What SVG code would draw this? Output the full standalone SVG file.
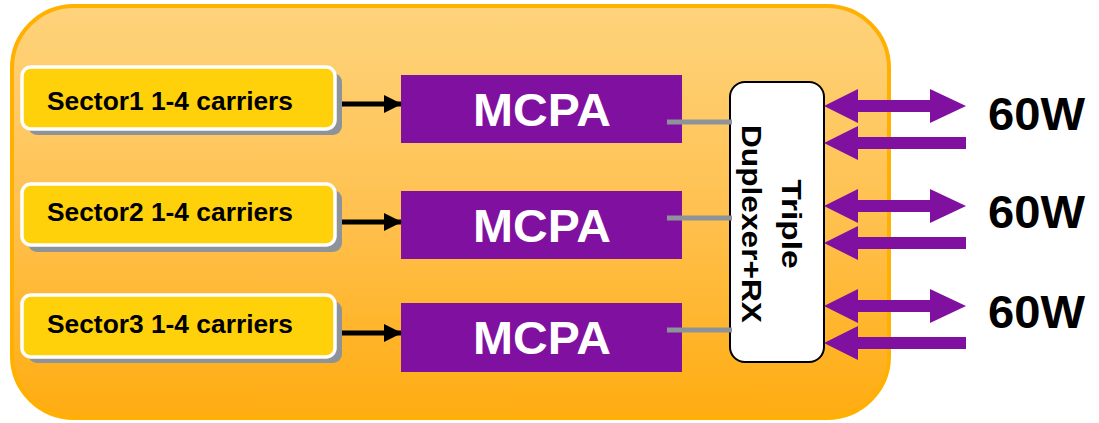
<svg xmlns="http://www.w3.org/2000/svg" width="1099" height="423" viewBox="0 0 1099 423">
  <defs>
    <linearGradient id="panelFill" x1="0" y1="0" x2="0" y2="1">
      <stop offset="0" stop-color="#FED37C"/>
      <stop offset="0.5" stop-color="#FFC150"/>
      <stop offset="1" stop-color="#FFAC10"/>
    </linearGradient>
    <marker id="blackHead" markerWidth="18" markerHeight="20" viewBox="0 0 18 20" refX="17" refY="10" orient="auto" markerUnits="userSpaceOnUse">
      <path d="M0,1 L18,10 L0,19 Z" fill="#000"/>
    </marker>
    <path id="dblArrow" d="M0,0 L34,-17 L34,-6 L106,-6 L106,-17 L142,0 L106,17 L106,6 L34,6 L34,17 Z"/>
    <path id="oneArrow" d="M0,0 L34,-17 L34,-6 L142,-6 L142,6 L34,6 L34,17 Z"/>
  </defs>
  <style>
    .sector-shadow { fill: #8E9399; }
    .sector { fill: #FFD10A; stroke: #FFFFFF; stroke-width: 3.5; }
    .sector-text { font-family: "Liberation Sans", Arial, sans-serif; font-weight: bold; font-size: 25px; fill: #000; }
    .mcpa { fill: #8010A0; }
    .mcpa-text { font-family: "Liberation Sans", Arial, sans-serif; font-weight: bold; font-size: 47px; fill: #FFF; text-anchor: middle; }
    .dup { fill: #FFFFFF; stroke: #000; stroke-width: 2; }
    .dup-text { font-family: "Liberation Sans", Arial, sans-serif; font-weight: bold; font-size: 28px; fill: #000; text-anchor: middle; }
    .watt { font-family: "Liberation Sans", Arial, sans-serif; font-weight: bold; font-size: 47px; fill: #000; }
    .feed { stroke: #000; stroke-width: 5; fill: none; }
    .link { stroke: #8E9399; stroke-width: 5; fill: none; }
    .rf { fill: #8010A0; }
  </style>

  <!-- base station panel -->
  <g id="panel">
    <rect x="12" y="6" width="877" height="412" rx="62" ry="62" fill="url(#panelFill)" stroke="#FFB000" stroke-width="4"/>
  </g>

  <!-- sector inputs -->
  <g id="sector1">
    <rect class="sector-shadow" x="28" y="73" width="314" height="62" rx="9"/>
    <rect class="sector" x="22" y="67" width="313" height="62" rx="9"/>
    <text class="sector-text" x="47" y="110" textLength="246" lengthAdjust="spacingAndGlyphs">Sector1 1-4 carriers</text>
  </g>
  <g id="sector2">
    <rect class="sector-shadow" x="28" y="190" width="314" height="62" rx="9"/>
    <rect class="sector" x="22" y="184" width="313" height="61" rx="9"/>
    <text class="sector-text" x="47" y="221" textLength="246" lengthAdjust="spacingAndGlyphs">Sector2 1-4 carriers</text>
  </g>
  <g id="sector3">
    <rect class="sector-shadow" x="28" y="301" width="314" height="62" rx="9"/>
    <rect class="sector" x="22" y="295" width="313" height="62" rx="9"/>
    <text class="sector-text" x="47" y="333" textLength="246" lengthAdjust="spacingAndGlyphs">Sector3 1-4 carriers</text>
  </g>

  <!-- power amplifiers -->
  <g id="mcpa1">
    <rect class="mcpa" x="401" y="75" width="281" height="68"/>
    <text class="mcpa-text" x="542" y="126" textLength="138" lengthAdjust="spacingAndGlyphs">MCPA</text>
  </g>
  <g id="mcpa2">
    <rect class="mcpa" x="401" y="191" width="281" height="68"/>
    <text class="mcpa-text" x="542" y="242" textLength="138" lengthAdjust="spacingAndGlyphs">MCPA</text>
  </g>
  <g id="mcpa3">
    <rect class="mcpa" x="401" y="303" width="281" height="69"/>
    <text class="mcpa-text" x="542" y="354" textLength="138" lengthAdjust="spacingAndGlyphs">MCPA</text>
  </g>

  <!-- duplexer -->
  <g id="duplexer">
    <rect class="dup" x="730" y="82" width="94" height="280" rx="15" ry="15"/>
    <g transform="translate(0,224) rotate(90)">
      <text class="dup-text" x="0" y="-782" textLength="89" lengthAdjust="spacingAndGlyphs">Triple</text>
      <text class="dup-text" x="0" y="-742" textLength="198" lengthAdjust="spacingAndGlyphs">Duplexer+RX</text>
    </g>
  </g>

  <!-- connectors -->
  <g id="connectors">
    <line class="feed" x1="342" y1="104" x2="401" y2="104" marker-end="url(#blackHead)"/>
    <line class="feed" x1="342" y1="222" x2="401" y2="222" marker-end="url(#blackHead)"/>
    <line class="feed" x1="342" y1="333" x2="401" y2="333" marker-end="url(#blackHead)"/>

    <line class="link" x1="667" y1="122" x2="732" y2="122"/>
    <line class="link" x1="667" y1="218" x2="732" y2="218"/>
    <line class="link" x1="667" y1="330" x2="732" y2="330"/>

    <use class="rf" href="#dblArrow" x="824" y="106"/>
    <use class="rf" href="#oneArrow" x="824" y="143"/>
    <use class="rf" href="#dblArrow" x="824" y="206"/>
    <use class="rf" href="#oneArrow" x="824" y="243"/>
    <use class="rf" href="#dblArrow" x="824" y="306"/>
    <use class="rf" href="#oneArrow" x="824" y="343"/>
  </g>

  <!-- antenna power labels -->
  <g id="out1"><text class="watt" x="988" y="130" textLength="97" lengthAdjust="spacingAndGlyphs">60W</text></g>
  <g id="out2"><text class="watt" x="988" y="228" textLength="97" lengthAdjust="spacingAndGlyphs">60W</text></g>
  <g id="out3"><text class="watt" x="988" y="328" textLength="97" lengthAdjust="spacingAndGlyphs">60W</text></g>
</svg>
